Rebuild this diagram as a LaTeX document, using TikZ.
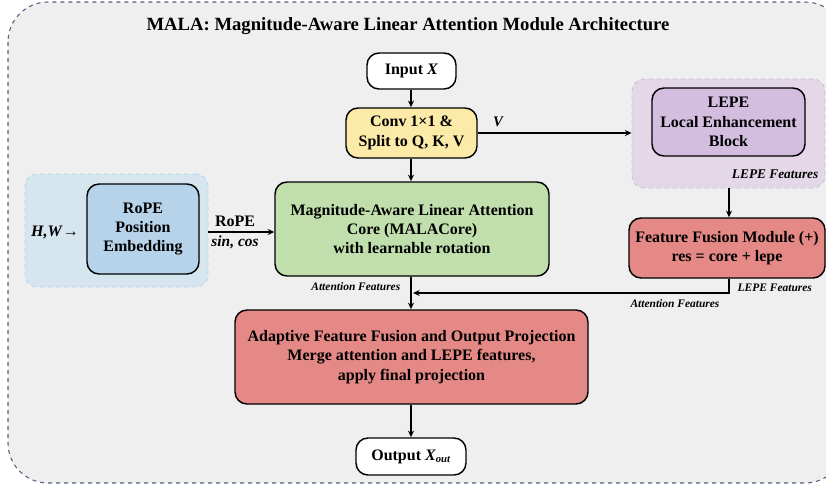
\documentclass[tikz,border=0pt]{standalone}
\usepackage{fontspec}
\setmainfont{Liberation Serif}
\usetikzlibrary{arrows.meta}
\definecolor{bgc}{RGB}{239,239,239}
\definecolor{framec}{RGB}{80,96,130}
\definecolor{convc}{RGB}{252,234,168}
\definecolor{lepeout}{RGB}{228,216,232}
\definecolor{lepeoutd}{RGB}{205,186,218}
\definecolor{lepein}{RGB}{211,190,224}
\definecolor{ropeout}{RGB}{213,230,238}
\definecolor{ropeoutd}{RGB}{184,212,232}
\definecolor{ropein}{RGB}{183,211,234}
\definecolor{corec}{RGB}{193,223,172}
\definecolor{redc}{RGB}{229,137,134}
\tikzset{
  box/.style={draw=black, line width=1.1pt, rounded corners=9pt, align=center,
    font=\fontsize{12}{14.5}\selectfont\bfseries, inner sep=0pt},
  container/.style={dashed, line width=0.6pt, rounded corners=9pt, inner sep=0pt},
  arr/.style={-{Stealth[length=5pt,width=4.5pt]}, line width=1.1pt},
  small/.style={font=\fontsize{8.6}{10}\selectfont\bfseries\itshape},
  sz/.style 2 args={minimum width=#1*0.75pt, minimum height=#2*0.75pt},
}
\begin{document}
\begin{tikzpicture}[x=0.75pt,y=-0.75pt]
\useasboundingbox (0,0) rectangle (826,486);
% outer frame
\draw[fill=bgc, draw=framec, dashed, line width=0.8pt, rounded corners=30pt] (8,2) rectangle (845,483);
\node[font=\fontsize{14}{16}\selectfont\bfseries] (title) at (408,26) {MALA: Magnitude-Aware Linear Attention Module Architecture};

% containers
\node[container, fill=lepeout, draw=lepeoutd, sz={193}{109}] (lepec) at (728.5,133.5) {};
\node[font=\fontsize{10}{12}\selectfont\bfseries\itshape, anchor=east] (lepefeat) at (823,174) {LEPE Features};
\node[container, fill=ropeout, draw=ropeoutd, sz={183}{113}] (ropec) at (116.5,230.5) {};

% nodes
\node[box, fill=white, sz={89}{36}] (input) at (411.5,71) {Input \textit{X}};
\node[box, fill=convc, sz={131}{50}] (conv) at (411.5,133) {Conv 1×1 \&\\Split to Q, K, V};
\node[box, fill=lepein, sz={153}{68}] (lepe) at (728.5,122) {LEPE\\Local Enhancement\\Block};
\node[box, fill=redc, sz={196}{60}] (ff) at (727,248) {Feature Fusion Module (+)\\res = core + lepe};
\node[box, fill=ropein, sz={112}{90}] (rope) at (143,229) {RoPE\\Position\\Embedding};
\node[font=\fontsize{12}{14}\selectfont\bfseries] (hw) at (55,232) {\textit{H,W}→};
\node[box, fill=corec, sz={274}{94}] (core) at (412,229) {Magnitude-Aware Linear Attention\\Core (MALACore)\\with learnable rotation};
\node[box, fill=redc, sz={353}{94}] (adapt) at (411.5,357) {Adaptive Feature Fusion and Output Projection\\Merge attention and LEPE features,\\apply final projection};
\node[box, fill=white, sz={110}{37}] (output) at (411,456.5) {Output \textit{X\textsubscript{out}}};

% connectors
\draw[arr] (input.south -| 411,0) -- (conv.north -| 411,0);
\draw[arr] (conv.south -| 411,0) -- (core.north -| 411,0);
\draw[arr] (conv.east) -- (lepec.west |- conv.east);
\node[font=\fontsize{11}{13}\selectfont\bfseries\itshape] (vlab) at (498,122) {V};
\draw[arr] (lepec.south -| 729,0) -- (ff.north -| 729,0);
\draw[arr] (ropec.east |- 0,232) -- (core.west |- 0,232);
\node[font=\fontsize{12}{14}\selectfont\bfseries] (ropelab) at (235,221) {RoPE};
\node[font=\fontsize{11.6}{13}\selectfont\bfseries\itshape] (sincos) at (235,242) {sin, cos};
\draw[arr] (core.south -| 411,0) -- (adapt.north -| 411,0);
\coordinate (join) at (413,293);
\draw[arr] (ff.south -| 729,0) |- (join);
\node[small, anchor=east] (attlab) at (405,287) {Attention Features};
\node[small, anchor=west] (lepelab2) at (733,288) {LEPE Features};
\node[small] (attlab2) at (675,304) {Attention Features};
\draw[arr] (adapt.south -| 411,0) -- (output.north -| 411,0);
\end{tikzpicture}
\end{document}
